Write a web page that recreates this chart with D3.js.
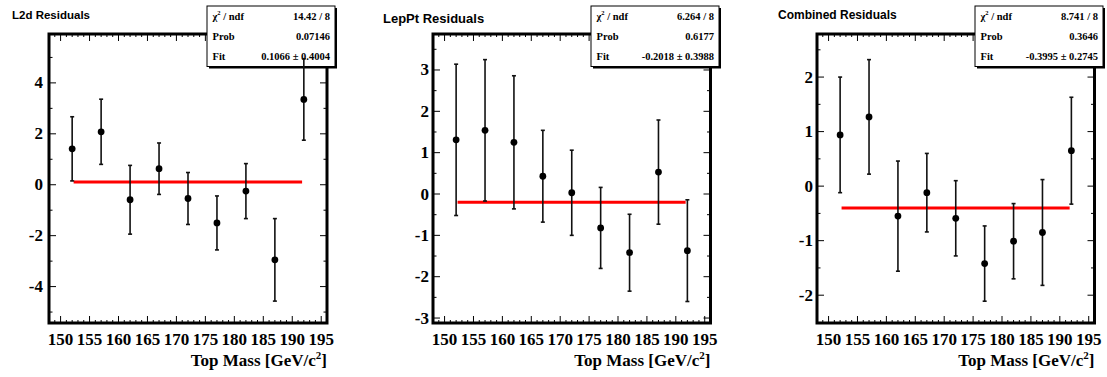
<!DOCTYPE html>
<html>
<head>
<meta charset="utf-8">
<script src="https://cdn.jsdelivr.net/npm/d3@7"></script>
<style>
  body { margin: 0; background: #fff; }
  svg { display: block; }
  .tick-label { font-family: "Liberation Serif", "Times New Roman", serif; font-weight: bold; font-size: 17px; fill: #000; }
  .axis-title { font-family: "Liberation Serif", "Times New Roman", serif; font-weight: bold; font-size: 17px; fill: #000; }
  .title { font-family: "Liberation Sans", Arial, sans-serif; font-weight: bold; fill: #000; }
  .stats { font-family: "Liberation Serif", "Times New Roman", serif; font-weight: bold; font-size: 10.5px; fill: #000; }
</style>
</head>
<body>
<svg id="chart"></svg>
<script>
// top mass points (GeV/c^2)
const masses = [152, 157, 162, 167, 172, 177, 182, 187, 192]

const l2dValues = [1.41, 2.08, -0.59, 0.63, -0.54, -1.50, -0.25, -2.95, 3.35]
const l2dErrors = [1.26, 1.28, 1.35, 1.01, 1.02, 1.06, 1.08, 1.62, 1.60]

const lepPtValues = [1.31, 1.54, 1.25, 0.43, 0.03, -0.82, -1.42, 0.53, -1.37]
const lepPtErrors = [1.83, 1.71, 1.61, 1.11, 1.03, 0.98, 0.93, 1.26, 1.23]

const combValues = [0.94, 1.27, -0.55, -0.12, -0.59, -1.42, -1.01, -0.85, 0.65]
const combErrors = [1.06, 1.05, 1.01, 0.72, 0.69, 0.69, 0.69, 0.97, 0.98]

const titles = ['L2d Residuals', 'LepPt Residuals', 'Combined Residuals']
const fitValues = [0.1066, -0.2018, -0.3995]
const chi2Labels = ['14.42 / 8', '6.264 / 8', '8.741 / 8']
const probLabels = ['0.07146', '0.6177', '0.3646']
const fitLabels = ['0.1066 \u00b1 0.4004', '-0.2018 \u00b1 0.3988', '-0.3995 \u00b1 0.2745']

const xTickLabels = [150, 155, 160, 165, 170, 175, 180, 185, 190, 195]
const yTickLabels = [
  [-4, -2, 0, 2, 4],
  [-3, -2, -1, 0, 1, 2, 3],
  [-2, -1, 0, 1, 2]
]

const series = [
  { values: l2dValues, errors: l2dErrors },
  { values: lepPtValues, errors: lepPtErrors },
  { values: combValues, errors: combErrors }
]

// layout of each pad
const pads = [
  { x0: 49, x1: 327, yDomain: [-5.43, 5.92], yMinor: 1, labelGap: 6,
    title: { x: 12, y: 18.5, size: 11.5 }, box: { x0: 207, x1: 335 } },
  { x0: 433, x1: 710.5, yDomain: [-3.12, 3.87], yMinor: 0.5, labelGap: 4,
    title: { x: 383, y: 22.7, size: 13 }, box: { x0: 591, x1: 719 } },
  { x0: 817, x1: 1094.5, yDomain: [-2.51, 2.79], yMinor: 0.5, labelGap: 4,
    title: { x: 778, y: 19, size: 12 }, box: { x0: 975, x1: 1103 } }
]

const frameTop = 34
const frameBottom = 323
const xDomain = [148, 196]
const fitRange = [152.25, 191.7]

const svg = d3.select('#chart')
    .attr('width', 1107)
    .attr('height', 377)

pads.forEach((pad, p) => {
  const g = svg.append('g')

  const x = d3.scaleLinear().domain(xDomain).range([pad.x0, pad.x1])
  const y = d3.scaleLinear().domain(pad.yDomain).range([frameBottom, frameTop])

  // minor + major ticks, on all four sides, pointing inward
  const xMinor = d3.range(149, 196, 1)
  const yMinor = d3.range(Math.ceil(pad.yDomain[0] / pad.yMinor) * pad.yMinor, pad.yDomain[1], pad.yMinor)
  const ticks = g.append('g').attr('stroke', '#000').attr('stroke-width', 1)

  xMinor.forEach(v => {
    const len = v % 5 === 0 ? 7 : 3
    ticks.append('line').attr('x1', x(v)).attr('x2', x(v)).attr('y1', frameBottom).attr('y2', frameBottom - len)
    ticks.append('line').attr('x1', x(v)).attr('x2', x(v)).attr('y1', frameTop).attr('y2', frameTop + len)
  })
  yMinor.forEach(v => {
    const isMajor = yTickLabels[p].some(t => Math.abs(t - v) < 1e-6)
    const len = isMajor ? 7 : 3.5
    ticks.append('line').attr('x1', pad.x0).attr('x2', pad.x0 + len).attr('y1', y(v)).attr('y2', y(v))
    ticks.append('line').attr('x1', pad.x1).attr('x2', pad.x1 - len).attr('y1', y(v)).attr('y2', y(v))
  })

  // frame
  g.append('rect')
      .attr('x', pad.x0).attr('y', frameTop)
      .attr('width', pad.x1 - pad.x0).attr('height', frameBottom - frameTop)
      .attr('fill', 'none').attr('stroke', '#000').attr('stroke-width', 3)

  // tick labels
  g.selectAll('.xl')
      .data(xTickLabels)
    .enter().append('text')
      .attr('class', 'tick-label')
      .attr('x', d => x(d))
      .attr('y', 345)
      .attr('text-anchor', 'middle')
      .text(d => d)

  g.selectAll('.yl')
      .data(yTickLabels[p])
    .enter().append('text')
      .attr('class', 'tick-label')
      .attr('x', pad.x0 - pad.labelGap)
      .attr('y', d => y(d) + 5.5)
      .attr('text-anchor', 'end')
      .text(d => d)

  // axis title
  const at = g.append('text')
      .attr('class', 'axis-title')
      .attr('x', pad.x1)
      .attr('y', 366)
      .attr('text-anchor', 'end')
  at.append('tspan').text('Top Mass [GeV/c')
  at.append('tspan').attr('font-size', '11px').attr('dy', -7).text('2')
  at.append('tspan').attr('dy', 7).text(']')

  // pad title
  g.append('text')
      .attr('class', 'title')
      .attr('x', pad.title.x)
      .attr('y', pad.title.y)
      .attr('font-size', pad.title.size + 'px')
      .text(titles[p])

  // stats box
  const bx = pad.box
  const by0 = 6, by1 = 66.5
  g.append('rect')
      .attr('x', bx.x0 + 2).attr('y', by0 + 2)
      .attr('width', bx.x1 - bx.x0).attr('height', by1 - by0)
      .attr('fill', '#000')
  g.append('rect')
      .attr('x', bx.x0).attr('y', by0)
      .attr('width', bx.x1 - bx.x0).attr('height', by1 - by0)
      .attr('fill', '#fff').attr('stroke', '#000').attr('stroke-width', 1)

  const rows = [
    { key: null, value: chi2Labels[p] },
    { key: 'Prob', value: probLabels[p] },
    { key: 'Fit', value: fitLabels[p] }
  ]
  rows.forEach((r, i) => {
    const ty = by0 + 14 + i * 20
    const k = g.append('text').attr('class', 'stats').attr('x', bx.x0 + 5.5).attr('y', ty)
    if (r.key === null) {
      k.append('tspan').text('\u03c7')
      k.append('tspan').attr('font-size', '6.5px').attr('dy', -5).text('2')
      k.append('tspan').attr('dy', 5).text(' / ndf')
    } else {
      k.text(r.key)
    }
    g.append('text').attr('class', 'stats')
        .attr('x', bx.x1 - 5).attr('y', ty)
        .attr('text-anchor', 'end')
        .text(r.value)
  })

  // fit line
  g.append('line')
      .attr('x1', x(fitRange[0])).attr('x2', x(fitRange[1]))
      .attr('y1', y(fitValues[p])).attr('y2', y(fitValues[p]))
      .attr('stroke', '#ff0000').attr('stroke-width', 3)

  // data points with error bars
  const pts = masses.map((m, i) => ({ m, v: series[p].values[i], e: series[p].errors[i] }))
  const bars = g.append('g').attr('stroke', '#111').attr('stroke-width', 1.6)
  pts.forEach(d => {
    const cx = x(d.m)
    bars.append('line').attr('x1', cx).attr('x2', cx).attr('y1', y(d.v + d.e)).attr('y2', y(d.v - d.e))
    bars.append('line').attr('x1', cx - 2).attr('x2', cx + 2).attr('y1', y(d.v + d.e)).attr('y2', y(d.v + d.e))
    bars.append('line').attr('x1', cx - 2).attr('x2', cx + 2).attr('y1', y(d.v - d.e)).attr('y2', y(d.v - d.e))
  })
  g.selectAll('circle')
      .data(pts)
    .enter().append('circle')
      .attr('cx', d => x(d.m))
      .attr('cy', d => y(d.v))
      .attr('r', 3.4)
      .attr('fill', '#000')
})
</script>
</body>
</html>
